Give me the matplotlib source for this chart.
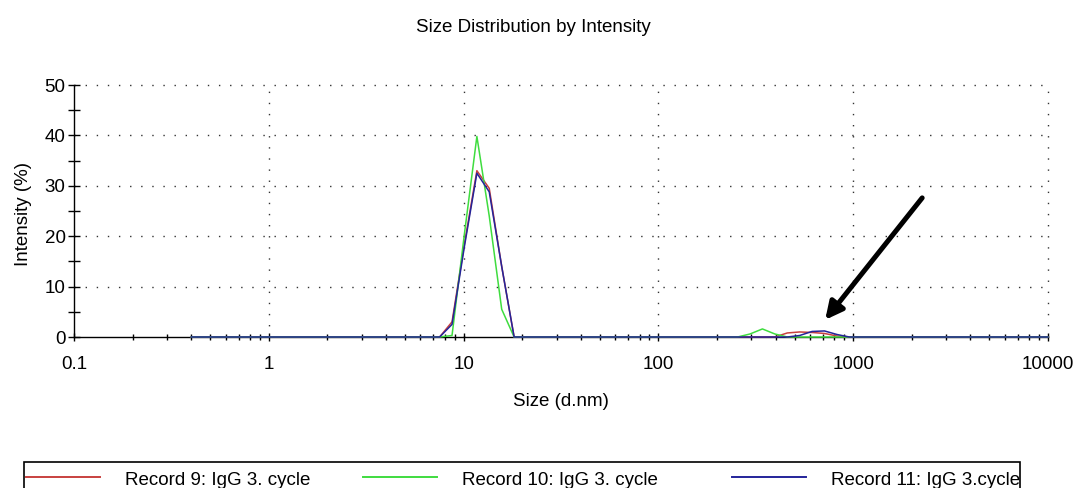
import matplotlib.pyplot as plt
from matplotlib.patches import Rectangle
from matplotlib.lines import Line2D
from matplotlib.ticker import LogLocator, MultipleLocator, FixedFormatter, FixedLocator

plt.rcParams['font.family'] = ['Liberation Sans', 'DejaVu Sans']
plt.rcParams['font.size'] = 13.5

# size classes (d.nm)
sizes = [0.4000, 0.4632, 0.5365, 0.6213, 0.7195, 0.8332, 0.9649,
         1.117, 1.294, 1.499, 1.736, 2.010, 2.328, 2.696, 3.122, 3.615,
         4.187, 4.849, 5.615, 6.503, 7.531, 8.721,
         10.10, 11.70, 13.54, 15.69, 18.17, 21.04, 24.36, 28.21, 32.67,
         37.84, 43.82, 50.75, 58.77, 68.06, 78.82, 91.28,
         105.7, 122.4, 141.8, 164.2, 190.1, 220.2, 255.0, 295.3, 342.0,
         396.1, 458.7, 531.2, 615.1, 712.4, 825.0, 955.4,
         1106, 1281, 1484, 1718, 1990, 2305, 2669, 3091, 3580, 4145,
         4801, 5560, 6439, 7456, 8635, 10000]

# intensity (%) per size class
rec9 = ([0.0] * 21 + [3.0, 18.5, 33.0, 29.5, 14.0, 0.0]
        + [0.0] * 21 + [0.8, 1.0, 0.9, 0.7, 0.2, 0.0]
        + [0.0] * 16)
rec10 = ([0.0] * 21 + [0.3, 20.5, 39.8, 24.0, 5.5, 0.0]
         + [0.0] * 18 + [0.6, 1.6, 0.6, 0.0, 0.0, 0.0, 0.0, 0.0, 0.0]
         + [0.0] * 16)
rec11 = ([0.0] * 21 + [2.5, 18.0, 32.5, 28.8, 14.0, 0.0]
         + [0.0] * 21 + [0.0, 0.3, 1.1, 1.2, 0.5, 0.0]
         + [0.0] * 16)

labels = ['Record 9: IgG 3. cycle', 'Record 10: IgG 3. cycle', 'Record 11: IgG 3.cycle']
colors = ['#c8413f', '#3fdc3f', '#24249a']

W, H = 1076, 488
fig = plt.figure(figsize=(W / 100, H / 100), dpi=100)
ax = fig.add_axes([74 / W, 1 - 337 / H, 974 / W, 252 / H])

for y, c, lab in zip([rec9, rec10, rec11], colors, labels):
    ax.plot(sizes, y, color=c, lw=1.1, label=lab, zorder=3, clip_on=False)

ax.set_xscale('log')
ax.set_xlim(0.1, 10000)
ax.set_ylim(0, 50)

ax.xaxis.set_major_locator(FixedLocator([0.1, 1, 10, 100, 1000, 10000]))
ax.xaxis.set_major_formatter(FixedFormatter(['0.1', '1', '10', '100', '1000', '10000']))
ax.xaxis.set_minor_locator(LogLocator(base=10, subs=range(2, 10), numticks=20))
ax.yaxis.set_major_locator(MultipleLocator(10))
ax.yaxis.set_minor_locator(MultipleLocator(5))

ax.tick_params(axis='x', which='both', direction='inout', length=6, width=1, pad=11)
ax.tick_params(axis='x', which='minor', length=5, labelbottom=False)
ax.tick_params(axis='y', which='both', direction='inout', length=8, width=1, pad=2)

for s in ['top', 'right']:
    ax.spines[s].set_visible(False)
for s in ['left', 'bottom']:
    ax.spines[s].set_color('black')
    ax.spines[s].set_linewidth(1)

# dotted grid, including the top and right edges
for v in [1, 10, 100, 1000, 10000]:
    ax.axvline(v, color='#333333', lw=1.0, ls=(0, (1, 7)), zorder=1, clip_on=False)
for v in [10, 20, 30, 40, 50]:
    ax.axhline(v, color='#333333', lw=1.0, ls=(0, (1, 7)), zorder=1, clip_on=False)

ax.set_xlabel('Size (d.nm)')
ax.xaxis.set_label_coords(0.5, -(393 - 337) / 252)
ax.set_ylabel('Intensity (%)')
ax.yaxis.set_label_coords(-(74 - 32) / 974, 0.49)
fig.text(533 / W, 1 - 32 / H, 'Size Distribution by Intensity', ha='center', va='baseline')

# arrow pointing at the aggregate peak
ax.annotate('', xy=(718, 3.4), xytext=(2260, 27.6),
            arrowprops=dict(arrowstyle='-|>', lw=3.6, color='black', mutation_scale=26,
                            shrinkA=0, shrinkB=0))

# legend box along the bottom
fig.patches.append(Rectangle((24 / W, 1 - 512 / H), 996 / W, 50 / H,
                             transform=fig.transFigure, fill=False,
                             edgecolor='black', lw=1.2))
handle_x = [26, 363, 732]
for hx, c, lab in zip(handle_x, colors, labels):
    fig.lines.append(Line2D([hx / W, (hx + 74) / W], [1 - 477 / H, 1 - 477 / H],
                            transform=fig.transFigure, color=c, lw=1.4))
    fig.text((hx + 99) / W, 1 - 485 / H, lab, ha='left', va='baseline')

fig.savefig('out.png', dpi=100)
